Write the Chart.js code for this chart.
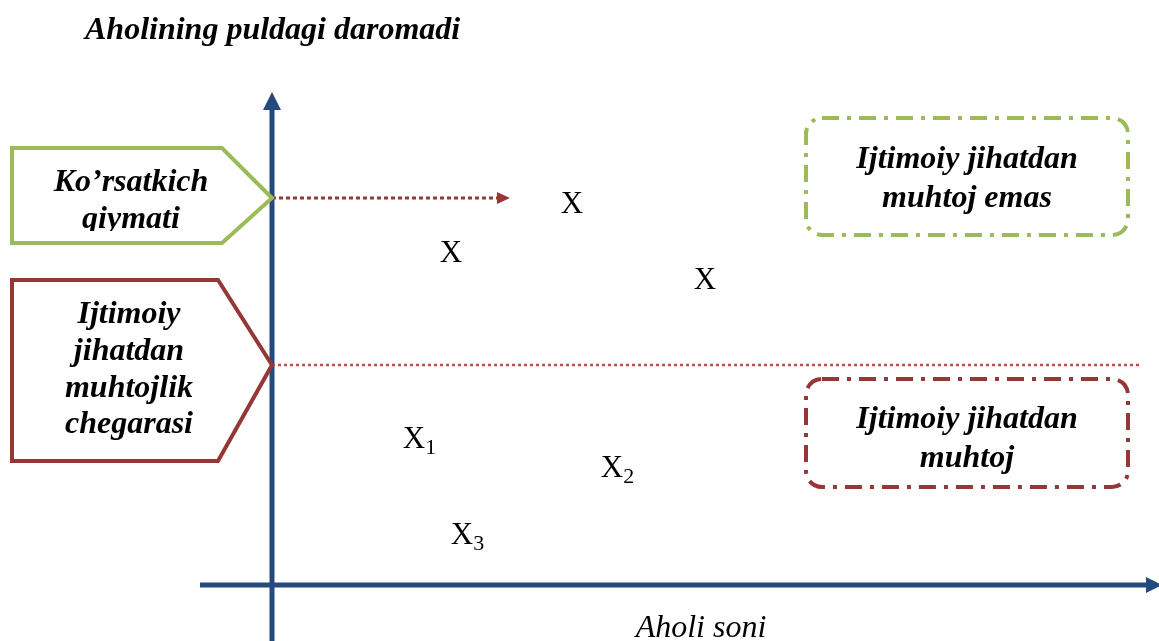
<!DOCTYPE html>
<html>
<head>
<meta charset="utf-8">
<script src="https://cdn.jsdelivr.net/npm/chart.js@4.4.1/dist/chart.umd.min.js"></script>
<style>
  html, body { margin: 0; padding: 0; background: #ffffff; }
  #wrap { width: 1159px; height: 641px; }
</style>
</head>
<body>
<div id="wrap"><canvas id="diagram" width="1159" height="641"></canvas></div>
<script>
// chart values, in units counted from the axis origin
const pointNames = ["X", "X", "X", "X", "X", "X"];
const pointSubs = ["", "", "", "1", "2", "3"];
const pointX = [300, 179, 433, 142, 340, 190];
const pointY = [380, 331, 304, 145, 116, 49];

const indicatorLevel = 387;   // Ko'rsatkich qiymati
const thresholdLevel = 220;   // muhtojlik chegarasi
const indicatorEnd = 238;
const thresholdEnd = 868;

const xAxisRange = [-72, 890];
const yAxisRange = [-60, 493];

const titleText = "Aholining puldagi daromadi";
const xAxisText = "Aholi soni";
const indicatorText = ["Ko\u2019rsatkich", "qiymati"];
const thresholdText = ["Ijtimoiy", "jihatdan", "muhtojlik", "chegarasi"];
const notNeedyText = ["Ijtimoiy jihatdan", "muhtoj emas"];
const needyText = ["Ijtimoiy jihatdan", "muhtoj"];

// layout (not data)
const axisBlue = "#24497c";
const green = "#9bbb59";
const darkRed = "#953735";
const lightRed = "#c0504d";
const serif = "'Liberation Serif', 'Times New Roman', serif";
const labelFont = "italic bold 32px " + serif;

const tagGreen = { left: -260, shoulder: -50, top: 437, bottom: 342, tip: indicatorLevel, clipBottom: 12 };
const tagRed = { left: -260, shoulder: -54, top: 305, bottom: 124, tip: thresholdLevel, clipBottom: 0 };
const boxGreen = { left: 534, right: 856, top: 467, bottom: 350 };
const boxRed = { left: 534, right: 856, top: 206, bottom: 98 };

function px(chart, v) { return chart.scales.x.getPixelForValue(v); }
function py(chart, v) { return chart.scales.y.getPixelForValue(v); }

function drawTag(ctx, chart, tag, color, lines, lineY) {
  const l = px(chart, tag.left), s = px(chart, tag.shoulder), t = px(chart, 0);
  const top = py(chart, tag.top), bot = py(chart, tag.bottom), tipY = py(chart, tag.tip);
  ctx.save();
  ctx.beginPath();
  ctx.moveTo(l, top);
  ctx.lineTo(s, top);
  ctx.lineTo(t, tipY);
  ctx.lineTo(s, bot);
  ctx.lineTo(l, bot);
  ctx.closePath();
  ctx.fillStyle = "#ffffff";
  ctx.fill();
  ctx.lineWidth = 4;
  ctx.strokeStyle = color;
  ctx.lineJoin = "miter";
  ctx.stroke();
  // text frame inside the tag cuts the last line like the original
  ctx.beginPath();
  ctx.rect(l, top, t - l, bot - top - tag.clipBottom);
  ctx.clip();
  ctx.fillStyle = "#000000";
  ctx.font = labelFont;
  ctx.textAlign = "center";
  ctx.textBaseline = "middle";
  lines.forEach((line, i) => ctx.fillText(line, (l + s) / 2 + 14, top + lineY[i]));
  ctx.restore();
}

function drawBox(ctx, chart, box, color, lines, lineY) {
  const l = px(chart, box.left), r = px(chart, box.right);
  const top = py(chart, box.top), bot = py(chart, box.bottom);
  ctx.save();
  ctx.beginPath();
  ctx.roundRect(l, top, r - l, bot - top, 16);
  ctx.lineWidth = 4;
  ctx.strokeStyle = color;
  ctx.setLineDash([17, 8, 4, 8]);
  ctx.stroke();
  ctx.setLineDash([]);
  ctx.fillStyle = "#000000";
  ctx.font = labelFont;
  ctx.textAlign = "center";
  ctx.textBaseline = "middle";
  lines.forEach((line, i) => ctx.fillText(line, (l + r) / 2, top + lineY[i]));
  ctx.restore();
}

function arrowHead(ctx, x, y, dir, len, half, color) {
  ctx.save();
  ctx.translate(x, y);
  ctx.rotate(dir);
  ctx.beginPath();
  ctx.moveTo(0, 0);
  ctx.lineTo(-len, -half);
  ctx.lineTo(-len, half);
  ctx.closePath();
  ctx.fillStyle = color;
  ctx.fill();
  ctx.restore();
}

const diagramPlugin = {
  id: "diagram",
  afterDatasetsDraw(chart) {
    const ctx = chart.ctx;
    const ox = px(chart, 0), oy = py(chart, 0);

    // axis arrow heads
    arrowHead(ctx, ox, py(chart, yAxisRange[1]), -Math.PI / 2, 18, 9, axisBlue);
    arrowHead(ctx, px(chart, xAxisRange[1]), oy, 0, 16, 8, axisBlue);
    // indicator arrow head
    arrowHead(ctx, px(chart, indicatorEnd), py(chart, indicatorLevel), 0, 13, 6, darkRed);

    drawTag(ctx, chart, tagGreen, green, indicatorText, [35, 72]);
    drawTag(ctx, chart, tagRed, darkRed, thresholdText, [35, 72, 109, 145]);
    drawBox(ctx, chart, boxGreen, green, notNeedyText, [42, 81]);
    drawBox(ctx, chart, boxRed, darkRed, needyText, [41, 80]);

    // point labels
    ctx.save();
    ctx.fillStyle = "#000000";
    ctx.textBaseline = "middle";
    pointNames.forEach((name, i) => {
      const x = px(chart, pointX[i]), y = py(chart, pointY[i]);
      ctx.font = "31px " + serif;
      ctx.textAlign = "center";
      ctx.fillText(name, x, y);
      if (pointSubs[i]) {
        const w = ctx.measureText(name).width;
        ctx.font = "22px " + serif;
        ctx.textAlign = "left";
        ctx.fillText(pointSubs[i], x + w / 2, y + 8);
      }
    });

    // titles
    ctx.font = "italic bold 32px " + serif;
    ctx.textAlign = "left";
    ctx.fillText(titleText, 85, 31);
    ctx.font = "italic 32px " + serif;
    ctx.textAlign = "center";
    ctx.fillText(xAxisText, 701, 629);
    ctx.restore();
  }
};

new Chart(document.getElementById("diagram"), {
  type: "scatter",
  data: {
    datasets: [
      {
        label: "Aholi",
        data: pointX.map((x, i) => ({ x, y: pointY[i] })),
        pointRadius: 0,
        showLine: false
      },
      {
        label: "chegarasi",
        data: [{ x: 0, y: thresholdLevel }, { x: thresholdEnd, y: thresholdLevel }],
        showLine: true,
        borderColor: lightRed,
        borderWidth: 2.5,
        borderDash: [3, 3],
        pointRadius: 0
      },
      {
        label: "qiymati",
        data: [{ x: 0, y: indicatorLevel }, { x: indicatorEnd - 12, y: indicatorLevel }],
        showLine: true,
        borderColor: darkRed,
        borderWidth: 3,
        borderDash: [4, 3],
        pointRadius: 0
      },
      {
        label: "x axis",
        data: [{ x: xAxisRange[0], y: 0 }, { x: xAxisRange[1] - 14, y: 0 }],
        showLine: true,
        borderColor: axisBlue,
        borderWidth: 5,
        pointRadius: 0
      },
      {
        label: "y axis",
        data: [{ x: 0, y: yAxisRange[0] }, { x: 0, y: yAxisRange[1] - 16 }],
        showLine: true,
        borderColor: axisBlue,
        borderWidth: 5,
        pointRadius: 0
      }
    ]
  },
  options: {
    responsive: false,
    animation: false,
    layout: { padding: 0 },
    plugins: { legend: { display: false }, tooltip: { enabled: false } },
    scales: {
      x: { type: "linear", min: -272, max: 887, display: false },
      y: { type: "linear", min: -56, max: 585, display: false }
    }
  },
  plugins: [diagramPlugin]
});
</script>
</body>
</html>
